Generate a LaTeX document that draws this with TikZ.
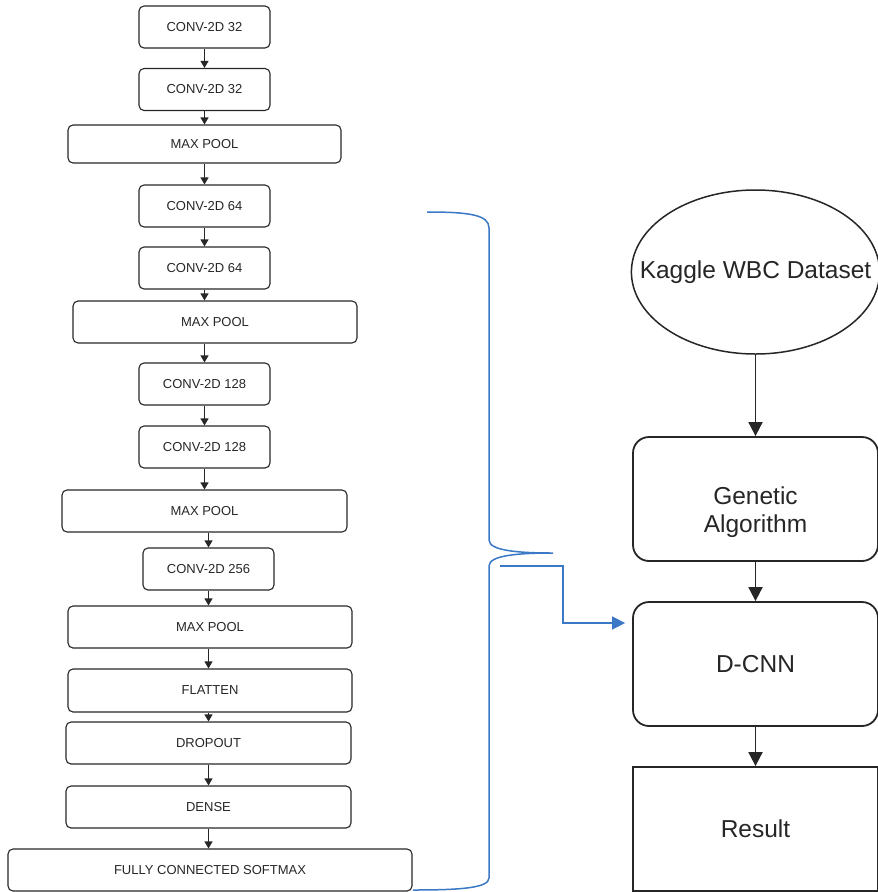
\documentclass[tikz,border=0pt]{standalone}
\usepackage{fontspec}
\setmainfont{Liberation Sans}
\usetikzlibrary{shapes.geometric,arrows.meta,calc}
\definecolor{ink}{HTML}{262626}
\definecolor{bracecol}{HTML}{3B78C6}
\begin{document}
\begin{tikzpicture}[x=1pt,y=-1pt,
  layer/.style={draw=ink, line width=1.1pt, rounded corners=5pt, text=ink,
    font=\fontsize{13}{15}\selectfont, inner sep=0pt, minimum height=42pt},
  narrow/.style={layer, minimum width=131pt},
  stage/.style={draw=ink, line width=1.8pt, text=ink, align=center,
    font=\fontsize{24.5}{28}\selectfont, inner sep=0pt,
    minimum width=245pt, minimum height=124pt},
  stagetext/.style={text=ink, align=center, font=\fontsize{24.5}{28}\selectfont},
  thinarr/.style={draw=ink, line width=1.1pt, -{Triangle[length=7pt,width=8pt]}},
  thickarr/.style={draw=ink, line width=1.8pt, -{Triangle[length=14pt,width=14pt]}},
  bluearr/.style={draw=bracecol, line width=1.5pt, -{Triangle[length=13pt,width=13pt]}},
]
\useasboundingbox (0,0) rectangle (878,892);

% CNN layer stack
\node[narrow] (c1) at (204.5,27) {CONV-2D 32};
\node[narrow] (c2) at (204.5,89.5) {CONV-2D 32};
\node[layer, minimum width=273pt, minimum height=38pt] (m1) at (204.5,144) {MAX POOL};
\node[narrow] (c3) at (204.5,206) {CONV-2D 64};
\node[narrow] (c4) at (204.5,268) {CONV-2D 64};
\node[layer, minimum width=284pt] (m2) at (215,322) {MAX POOL};
\node[narrow] (c5) at (204.5,384) {CONV-2D 128};
\node[narrow] (c6) at (204.5,447) {CONV-2D 128};
\node[layer, minimum width=285pt] (m3) at (204.5,511) {MAX POOL};
\node[narrow] (c7) at (208.5,569) {CONV-2D 256};
\node[layer, minimum width=284pt] (m4) at (210,627) {MAX POOL};
\node[layer, minimum width=284pt, minimum height=43pt] (fl) at (210,690.5) {FLATTEN};
\node[layer, minimum width=285pt] (dr) at (208.5,743) {DROPOUT};
\node[layer, minimum width=285pt] (de) at (208.5,807) {DENSE};
\node[layer, minimum width=404pt] (fc) at (210,870) {FULLY CONNECTED SOFTMAX};

\draw[thinarr] (c1) -- (c2);
\draw[thinarr] (c2.south) -- (c2.south |- m1.north);
\draw[thinarr] (m1.south -| c3.north) -- (c3.north);
\draw[thinarr] (c3) -- (c4);
\draw[thinarr] (c4.south) -- (c4.south |- m2.north);
\draw[thinarr] (m2.south -| c5.north) -- (c5.north);
\draw[thinarr] (c5) -- (c6);
\draw[thinarr] (c6.south) -- (c6.south |- m3.north);
\draw[thinarr] (m3.south -| c7.north) -- (c7.north);
\draw[thinarr] (c7.south) -- (c7.south |- m4.north);
\draw[thinarr] (m4.south -| c7.north) -- (c7.north |- fl.north);
\draw[thinarr] (fl.south -| de.north) -- (de.north |- dr.north);
\draw[thinarr] (dr) -- (de);
\draw[thinarr] (de.south) -- (de.south |- fc.north);

% brace grouping the layers
\draw[bracecol, line width=1.5pt]
  (427,212) .. controls (470,212) and (489,215) .. (489,228)
  -- (489,540) .. controls (489,551) and (520,553) .. (553,553)
  .. controls (520,553) and (489,555) .. (489,566)
  -- (489,878) .. controls (489,888) and (460,890) .. (413,890);

% pipeline
\node[ellipse, draw=ink, line width=1.5pt, text=ink, inner xsep=-28pt, inner ysep=0pt,
  minimum width=245pt, minimum height=164pt,
  font=\fontsize{24.5}{28}\selectfont] (ds) at (755.5,272) {Kaggle WBC Dataset};
\node[stage, rounded corners=16pt,
  label={[stagetext, yshift=-13pt]center:Genetic\\Algorithm}] (ga) at (755.5,499) {};
\node[stage, rounded corners=16pt] (dc) at (755.5,664) {D-CNN};
\node[stage] (rs) at (755.5,829) {Result};

\draw[thickarr] (ds) -- (ga);
\draw[thickarr] (ga) -- (dc);
\draw[thickarr] (dc) -- (rs);

\coordinate (bstart) at (500,566);
\draw[bluearr, shorten >=7pt] (bstart) -- ($(bstart)+(63,0)$) |- ([yshift=41pt]dc.west);
\end{tikzpicture}
\end{document}
